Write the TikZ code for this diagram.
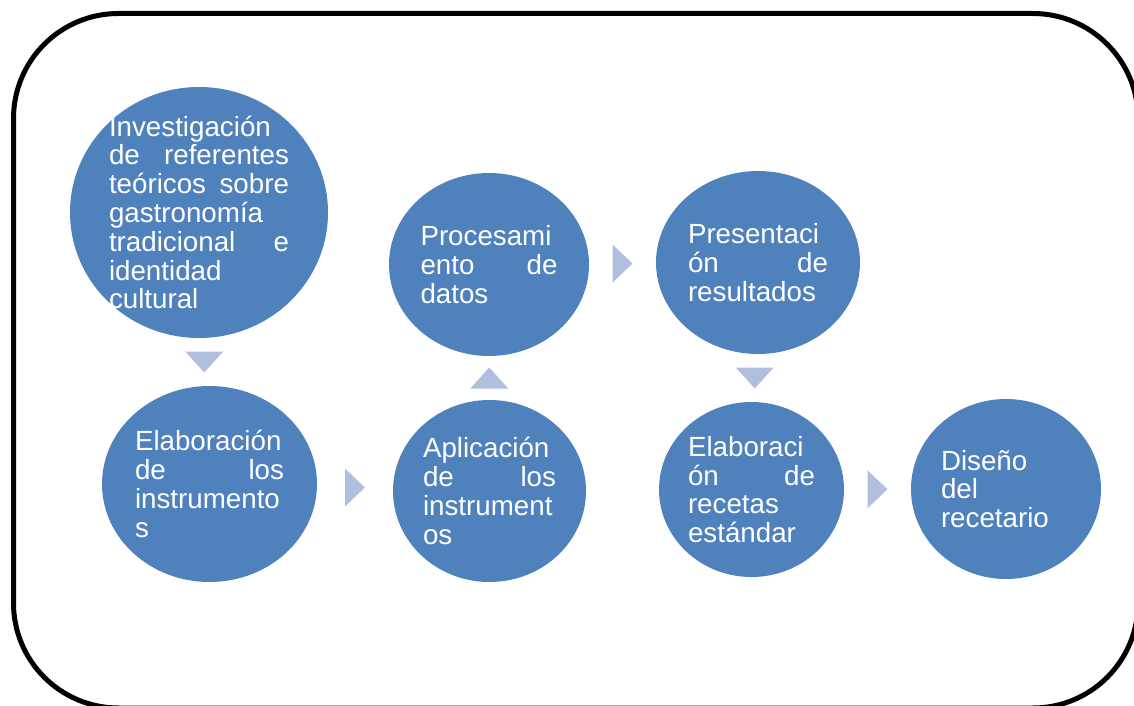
\documentclass[tikz,border=0pt]{standalone}
\usepackage{fontspec}
\setmainfont{Liberation Sans}
\usetikzlibrary{shapes.geometric,calc}
\definecolor{nodeblue}{HTML}{4F81BD}
\definecolor{arrowblue}{HTML}{B0BFDD}
\begin{document}
\begin{tikzpicture}[x=0.75pt,y=-0.75pt,
  stepnode/.style={ellipse, fill=nodeblue, draw=none, inner sep=0pt},
  txt/.style={text=white, font=\fontsize{20.8pt}{21.6pt}\selectfont, align=left, inner sep=0pt},
  arr/.style={fill=arrowblue, draw=none},
  downtri/.pic={\fill[arr] (-19,-10.5) -- (19,-10.5) -- (0,10.5) -- cycle;},
  uptri/.pic={\fill[arr] (-19,10.5) -- (19,10.5) -- (0,-10.5) -- cycle;},
  righttri/.pic={\fill[arr] (-10,-19) -- (-10,19) -- (10,0) -- cycle;}]
\useasboundingbox (0,0) rectangle (1134,706);
\clip (0,0) rectangle (1134,706);
\draw[line width=3.75pt, rounded corners=78.75pt] (13.5,13.5) rectangle (1138,708);

\node[stepnode, minimum width=193.5pt, minimum height=188.25pt] (e1) at (199,212.5) {};
\node[txt, text width=135pt] (t1) at (e1.center) {Investigación\\de\hfill referentes\\teóricos\hfill sobre\\gastronomía\\tradicional\hfill e\\identidad\\cultural};

\node[stepnode, minimum width=161.25pt, minimum height=147pt] (e2) at (209.5,484) {};
\node[txt, text width=111.75pt] (t2) at (e2.center) {Elaboración\\de\hfill los\\instrumento\\s};

\node[stepnode, minimum width=144.75pt, minimum height=136.5pt] (e3) at (489.5,491) {};
\node[txt, text width=99.75pt] (t3) at (e3.center) {Aplicación\\de\hfill los\\instrument\\os};

\node[stepnode, minimum width=150pt, minimum height=137.25pt] (e4) at (489,264.5) {};
\node[txt, text width=102.75pt] (t4) at (e4.center) {Procesami\\ento\hfill de\\datos};

\node[stepnode, minimum width=153pt, minimum height=137.25pt] (e5) at (758,262.5) {};
\node[txt, text width=105pt] (t5) at (e5.center) {Presentaci\\ón\hfill de\\resultados};

\node[stepnode, minimum width=138.75pt, minimum height=131.25pt] (e6) at (751.5,489.5) {};
\node[txt, text width=95.25pt] (t6) at (e6.center) {Elaboraci\\ón\hfill de\\recetas\\estándar};

\node[stepnode, minimum width=142.5pt, minimum height=135pt] (e7) at (1006,489) {};
\node[txt, text width=97.5pt] (t7) at (e7.center) {Diseño\\del\\recetario};

\pic at ($(e1.south)!0.5!(e2.north)$) {downtri};
\pic at ($(e2.east)!0.5!(e3.west)$) {righttri};
\pic at ($(e3.north)!0.5!(e4.south)$) {uptri};
\pic at ($(e4.east)!0.5!(e5.west)$) {righttri};
\pic at ($(e5.south)!0.5!(e6.north)$) {downtri};
\pic at ($(e6.east)!0.5!(e7.west)$) {righttri};
\end{tikzpicture}
\end{document}
